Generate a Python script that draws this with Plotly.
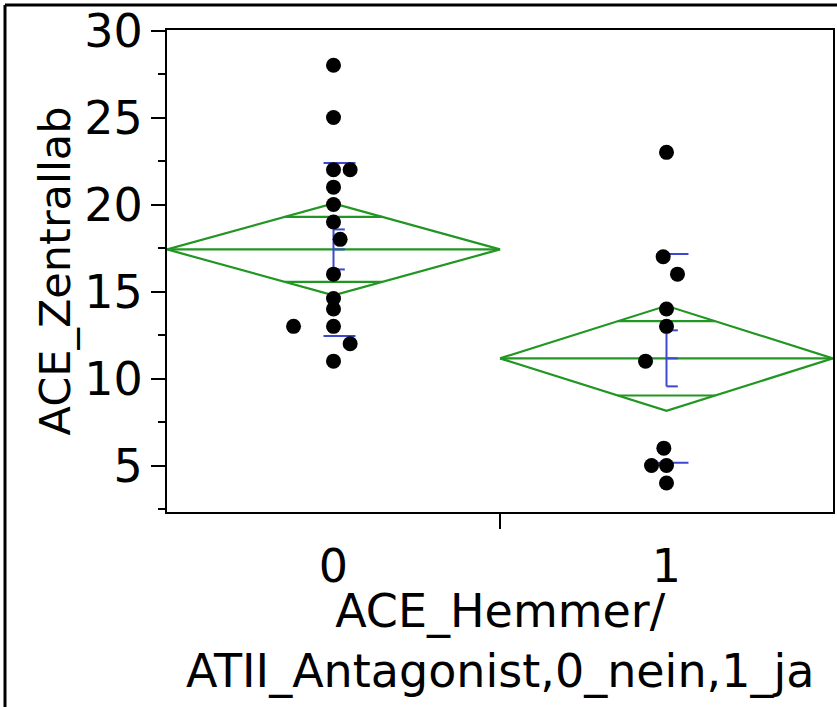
import math
import plotly.graph_objects as go

# ---- data ----
groups = [0, 1]
group_labels = ["0", "1"]

values_0 = [28, 25, 22, 22, 21, 20, 19, 18, 16, 14.6, 14, 13, 13, 12, 11]
jitter_0 = [0, 0, 0, 0.05, 0, 0, 0, 0.02, 0, 0, 0, -0.12, 0, 0.05, 0]

values_1 = [23, 17, 16, 14, 13, 11, 6, 5, 5, 4]
jitter_1 = [0, -0.01, 0.033, 0, 0, -0.063, -0.008, -0.045, 0, 0]

means = [17.42, 11.16]
ci_half = [2.64, 3.02]
se = [1.15, 1.61]
sd = [4.97, 6.0]

x_title = "ACE_Hemmer/<br>ATII_Antagonist,0_nein,1_ja"
y_title = "ACE_Zentrallab"

# ---- style / layout constants ----
W, H = 837, 707
M_L, M_R, M_T, M_B = 167, 4, 30, 195
PW, PH = W - M_L - M_R, H - M_T - M_B
GREEN = "rgb(34,150,34)"
BLUE = "rgb(60,72,205)"
FONT = "DejaVu Sans"

fig = go.Figure()

half_w = 0.5
for g, m, c in zip(groups, means, ci_half):
    # diamond
    fig.add_trace(go.Scatter(
        x=[g - half_w, g, g + half_w, g, g - half_w],
        y=[m, m + c, m, m - c, m],
        mode="lines", line=dict(color=GREEN, width=2.2), hoverinfo="skip", showlegend=False))
    # mean line
    fig.add_trace(go.Scatter(
        x=[g - half_w, g + half_w], y=[m, m],
        mode="lines", line=dict(color=GREEN, width=2.2), hoverinfo="skip", showlegend=False))
    # overlap marks
    d = c / math.sqrt(2)
    hw = half_w * (1 - d / c)
    for yy in (m + d, m - d):
        fig.add_trace(go.Scatter(
            x=[g - hw, g + hw], y=[yy, yy],
            mode="lines", line=dict(color=GREEN, width=2.2), hoverinfo="skip", showlegend=False))

for g, m, s_e, s_d in zip(groups, means, se, sd):
    # mean error bar
    fig.add_trace(go.Scatter(
        x=[g, g], y=[m - s_e, m + s_e],
        mode="lines", line=dict(color=BLUE, width=2), hoverinfo="skip", showlegend=False))
    for yy in (m - s_e, m, m + s_e):
        fig.add_trace(go.Scatter(
            x=[g, g + 0.034], y=[yy, yy],
            mode="lines", line=dict(color=BLUE, width=2), hoverinfo="skip", showlegend=False))
    # std dev lines
    for yy in (m - s_d, m + s_d):
        fig.add_trace(go.Scatter(
            x=[g - 0.03, g + 0.066], y=[yy, yy],
            mode="lines", line=dict(color=BLUE, width=2), hoverinfo="skip", showlegend=False))

for g, vals, jit in ((groups[0], values_0, jitter_0), (groups[1], values_1, jitter_1)):
    fig.add_trace(go.Scatter(
        x=[g + j for j in jit], y=vals, mode="markers",
        marker=dict(color="black", size=15, line=dict(width=0)),
        showlegend=False))

axis_common = dict(
    showline=True, linecolor="black", linewidth=2, mirror=True,
    showgrid=False, zeroline=False,
    tickfont=dict(family=FONT, size=46, color="black"),
)

fig.update_xaxes(
    range=[-0.5, 1.5], tickmode="array", tickvals=groups, ticktext=group_labels,
    ticks="", ticklabelstandoff=13,
    minor=dict(tickmode="array", tickvals=[0.5], ticks="outside", ticklen=15,
               tickwidth=2, tickcolor="black", showgrid=False),
    **axis_common)

fig.update_yaxes(
    range=[2.33, 30.03], tick0=0, dtick=5, ticks="outside", ticklen=14, tickwidth=2,
    tickcolor="black", ticklabelstandoff=-1,
    minor=dict(dtick=2.5, tick0=0, ticks="outside", ticklen=7, tickwidth=2,
               tickcolor="black", showgrid=False),
    title=dict(text=y_title, font=dict(family=FONT, size=43, color="black"),
               standoff=0),
    **axis_common)

# x-axis title (two lines) as an annotation for precise placement
fig.add_annotation(
    text=x_title, xref="paper", yref="paper", x=0.5, y=-(641 - (M_T + PH)) / PH,
    xanchor="center", yanchor="middle", showarrow=False,
    font=dict(family=FONT, size=46, color="black"))

# outer frame (top and left edges of the image)
fx0 = (5 - M_L) / PW
fy0 = 1 + (M_T - 5) / PH
fig.add_shape(type="line", xref="paper", yref="paper", x0=fx0, x1=1 + M_R / PW,
              y0=fy0, y1=fy0, line=dict(color="black", width=3))
fig.add_shape(type="line", xref="paper", yref="paper", x0=fx0, x1=fx0,
              y0=fy0, y1=-M_B / PH, line=dict(color="black", width=3))

fig.update_layout(
    width=W, height=H,
    margin=dict(l=M_L, r=M_R, t=M_T, b=M_B, autoexpand=False),
    paper_bgcolor="white", plot_bgcolor="white",
    font=dict(family=FONT, color="black"),
)

fig.write_html("out.html")
